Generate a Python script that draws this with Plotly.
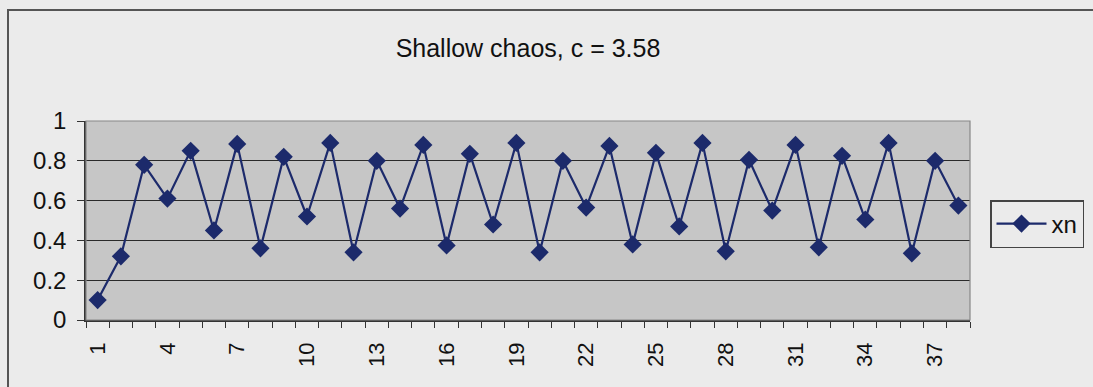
import plotly.graph_objects as go

n_index = list(range(1, 39))
xn_values = [0.10, 0.32, 0.78, 0.61, 0.85, 0.45, 0.885, 0.36, 0.82, 0.52,
             0.89, 0.34, 0.80, 0.56, 0.88, 0.375, 0.835, 0.48, 0.89, 0.34,
             0.80, 0.565, 0.875, 0.38, 0.84, 0.47, 0.89, 0.345, 0.805, 0.55,
             0.88, 0.365, 0.825, 0.505, 0.89, 0.335, 0.80, 0.575]
tick_labels = [str(i) for i in range(1, 39, 3)]
series_name = "xn"
title_text = "Shallow chaos, c = 3.58"

L, R, T, B = 86, 123, 121, 67
W, H = 1093, 387
pw = W - L - R
ph = H - T - B

def px_x(p):
    return (p - L) / pw

def px_y(p):
    return (H - B - p) / ph

fig = go.Figure()
fig.add_trace(go.Scatter(
    x=n_index, y=xn_values, mode="lines+markers", name=series_name,
    line=dict(color="#1c2a6b", width=2.2),
    marker=dict(symbol="diamond", size=14, color="#1c2a6b"),
))

fig.update_layout(
    width=W, height=H,
    margin=dict(l=L, r=R, t=T, b=B, autoexpand=False),
    paper_bgcolor="#ebebeb",
    plot_bgcolor="#c6c6c6",
    font=dict(family="Liberation Sans, Arial", size=22, color="#111111"),
    title=dict(text=title_text, x=0.5, xanchor="center", xref="paper",
               y=1 - 48 / H, yanchor="middle",
               font=dict(size=25, family="Liberation Sans, Arial", color="#111111")),
    showlegend=True,
    legend=dict(x=px_x(990), y=px_y(200), xanchor="left", yanchor="top",
                bgcolor="rgba(0,0,0,0)", bordercolor="#444444", borderwidth=1.5,
                font=dict(size=24), itemwidth=50, tracegroupgap=0),
    xaxis=dict(
        range=[0.5, 38.5],
        tickmode="array", tickvals=list(range(1, 39, 3)), ticktext=tick_labels,
        tickangle=-90, showgrid=False, zeroline=False,
        showline=True, linecolor="#333333", linewidth=1.5,
        ticks="", tickfont=dict(size=22), ticklabelstandoff=12,
        minor=dict(tickmode="array", tickvals=[i + 0.5 for i in range(0, 39)],
                   ticks="outside", ticklen=6, tickcolor="#333333", tickwidth=1.2),
    ),
    yaxis=dict(
        range=[0, 1], tickmode="array", tickvals=[0, 0.2, 0.4, 0.6, 0.8, 1],
        ticktext=["0", "0.2", "0.4", "0.6", "0.8", "1"],
        showgrid=True, gridcolor="#2a2a2a", gridwidth=1.2,
        zeroline=False, showline=True, linecolor="#333333", linewidth=1.5,
        ticks="outside", ticklen=7, tickcolor="#333333", tickfont=dict(size=24),
        ticklabelstandoff=6,
    ),
    shapes=[
        dict(type="rect", xref="paper", yref="paper", x0=0, x1=1, y0=0, y1=1,
             line=dict(color="#888888", width=1.2), fillcolor="rgba(0,0,0,0)", layer="above"),
        dict(type="rect", xref="paper", yref="paper",
             x0=px_x(8), x1=px_x(1100), y0=px_y(400), y1=px_y(10),
             line=dict(color="#555555", width=2), fillcolor="rgba(0,0,0,0)"),
    ],
)

fig.write_html("out.html")
